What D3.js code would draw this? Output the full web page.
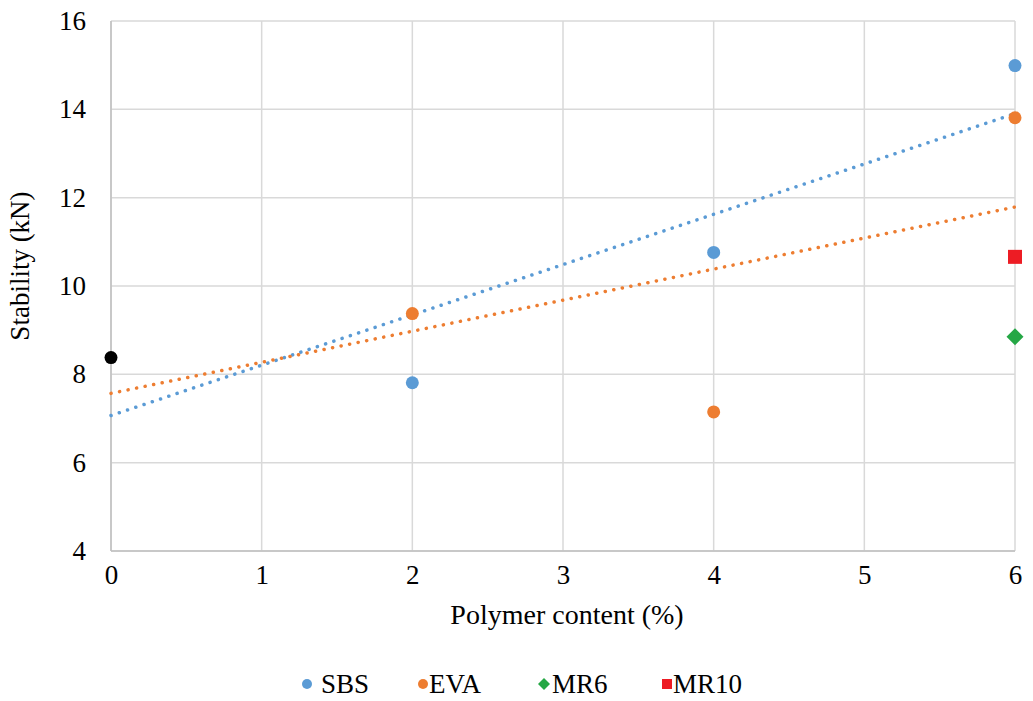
<!DOCTYPE html>
<html>
<head>
<meta charset="utf-8">
<script src="https://cdn.jsdelivr.net/npm/d3@7"></script>
</head>
<body style="margin:0; background:#fff">
<div id="chart"></div>
<script>
// data
var control = [0, 8.38];          // plain asphalt, drawn black, part of both trends
var sbsX = [2, 4, 6];
var sbsY = [7.81, 10.76, 14.99];
var evaX = [2, 4, 6];
var evaY = [9.375, 7.15, 13.81];
var mr6 = [6, 8.85];
var mr10 = [6, 10.66];
var xTicks = [0, 1, 2, 3, 4, 5, 6];
var yTicks = [4, 6, 8, 10, 12, 14, 16];

var blue = "#5b9bd5", orange = "#ed7d31", green = "#25a745", red = "#ed1c24";

var W = 1033, H = 701;
var margin = {top: 21, right: 18, bottom: 150, left: 111};
var w = W - margin.left - margin.right, h = H - margin.top - margin.bottom;

var svg = d3.select("#chart").append("svg").attr("width", W).attr("height", H)
  .style("font-family", "'Liberation Serif'");
var g = svg.append("g").attr("transform", "translate(" + margin.left + "," + margin.top + ")");

var x = d3.scaleLinear().domain([0, 6]).range([0, w]);
var y = d3.scaleLinear().domain([4, 16]).range([h, 0]);

// grid
g.append("g").selectAll("line").data(yTicks).enter().append("line")
  .attr("x1", 0).attr("x2", w)
  .attr("y1", function(d){ return y(d); }).attr("y2", function(d){ return y(d); })
  .attr("stroke", "#d9d9d9").attr("stroke-width", 1.5);
g.append("g").selectAll("line").data(xTicks).enter().append("line")
  .attr("y1", 0).attr("y2", h)
  .attr("x1", function(d){ return x(d); }).attr("x2", function(d){ return x(d); })
  .attr("stroke", "#d9d9d9").attr("stroke-width", 1.5);
g.append("line").attr("x1", 0).attr("x2", w).attr("y1", h).attr("y2", h)
  .attr("stroke", "#bfbfbf").attr("stroke-width", 1.5);
g.append("line").attr("x1", 0).attr("x2", 0).attr("y1", 0).attr("y2", h)
  .attr("stroke", "#bfbfbf").attr("stroke-width", 1.5);

// axes (labels only)
var xAxis = g.append("g").attr("transform", "translate(0," + h + ")")
  .call(d3.axisBottom(x).tickValues(xTicks).tickSize(0).tickPadding(14).tickFormat(d3.format("d")));
var yAxis = g.append("g")
  .call(d3.axisLeft(y).tickValues(yTicks).tickSize(0).tickPadding(25).tickFormat(d3.format("d")));
[xAxis, yAxis].forEach(function(a){
  a.attr("font-family", null).attr("font-size", null);
  a.select(".domain").remove();
  a.selectAll("text").style("font-size", "27px").attr("fill", "#000");
});
xAxis.selectAll("text").attr("dy", "0.71em");

svg.append("text").attr("x", margin.left + w / 2 + 4).attr("y", 624)
  .attr("text-anchor", "middle").style("font-size", "28px").text("Polymer content (%)");
svg.append("text").attr("transform", "translate(29,266) rotate(-90)")
  .attr("text-anchor", "middle").style("font-size", "27px").text("Stability (kN)");

// linear trendline (least squares, like excel)
function fit(xs, ys) {
  var mx = d3.mean(xs), my = d3.mean(ys);
  var sxy = d3.sum(xs, function(v, i){ return (v - mx) * (ys[i] - my); });
  var sxx = d3.sum(xs, function(v){ return (v - mx) * (v - mx); });
  var b = sxy / sxx;
  return function(v){ return my + b * (v - mx); };
}
var sbsFit = fit([control[0]].concat(sbsX), [control[1]].concat(sbsY));
var evaFit = fit([control[0]].concat(evaX), [control[1]].concat(evaY));

var line = d3.line().x(function(d){ return x(d[0]); }).y(function(d){ return y(d[1]); });
[[sbsFit, blue], [evaFit, orange]].forEach(function(t){
  g.append("path")
    .attr("d", line([[0, t[0](0)], [6, t[0](6)]]))
    .attr("fill", "none").attr("stroke", t[1]).attr("stroke-width", 3.5)
    .attr("stroke-linecap", "round").attr("stroke-dasharray", "0.1,8.6");
});

function diamond(r) {
  return "M0," + (-r) + "L" + r + ",0L0," + r + "L" + (-r) + ",0Z";
}

// points
g.append("circle").attr("cx", x(control[0])).attr("cy", y(control[1])).attr("r", 6.5).attr("fill", "#000");
g.selectAll(".sbs").data(sbsX).enter().append("circle").attr("class", "sbs")
  .attr("cx", function(d){ return x(d); }).attr("cy", function(d, i){ return y(sbsY[i]); })
  .attr("r", 6.5).attr("fill", blue);
g.selectAll(".eva").data(evaX).enter().append("circle").attr("class", "eva")
  .attr("cx", function(d){ return x(d); }).attr("cy", function(d, i){ return y(evaY[i]); })
  .attr("r", 6.5).attr("fill", orange);
g.append("path").attr("d", diamond(8.5))
  .attr("transform", "translate(" + x(mr6[0]) + "," + y(mr6[1]) + ")").attr("fill", green);
g.append("rect").attr("x", x(mr10[0]) - 7).attr("y", y(mr10[1]) - 7).attr("width", 14).attr("height", 14).attr("fill", red);

// legend
var legendItems = [
  {name: "SBS", color: blue, shape: "circle", x: 307, tx: 321},
  {name: "EVA", color: orange, shape: "circle", x: 423, tx: 429},
  {name: "MR6", color: green, shape: "diamond", x: 544, tx: 552},
  {name: "MR10", color: red, shape: "square", x: 667, tx: 673}
];
var lg = svg.append("g");
legendItems.forEach(function(it){
  var ly = 684;
  if (it.shape === "circle") {
    lg.append("circle").attr("cx", it.x).attr("cy", ly).attr("r", 5).attr("fill", it.color);
  } else if (it.shape === "diamond") {
    lg.append("path").attr("d", diamond(6))
      .attr("transform", "translate(" + it.x + "," + ly + ")").attr("fill", it.color);
  } else {
    lg.append("rect").attr("x", it.x - 5).attr("y", ly - 5).attr("width", 10).attr("height", 10).attr("fill", it.color);
  }
  lg.append("text").attr("x", it.tx).attr("y", ly + 9).style("font-size", "27px").text(it.name);
});
</script>
</body>
</html>
